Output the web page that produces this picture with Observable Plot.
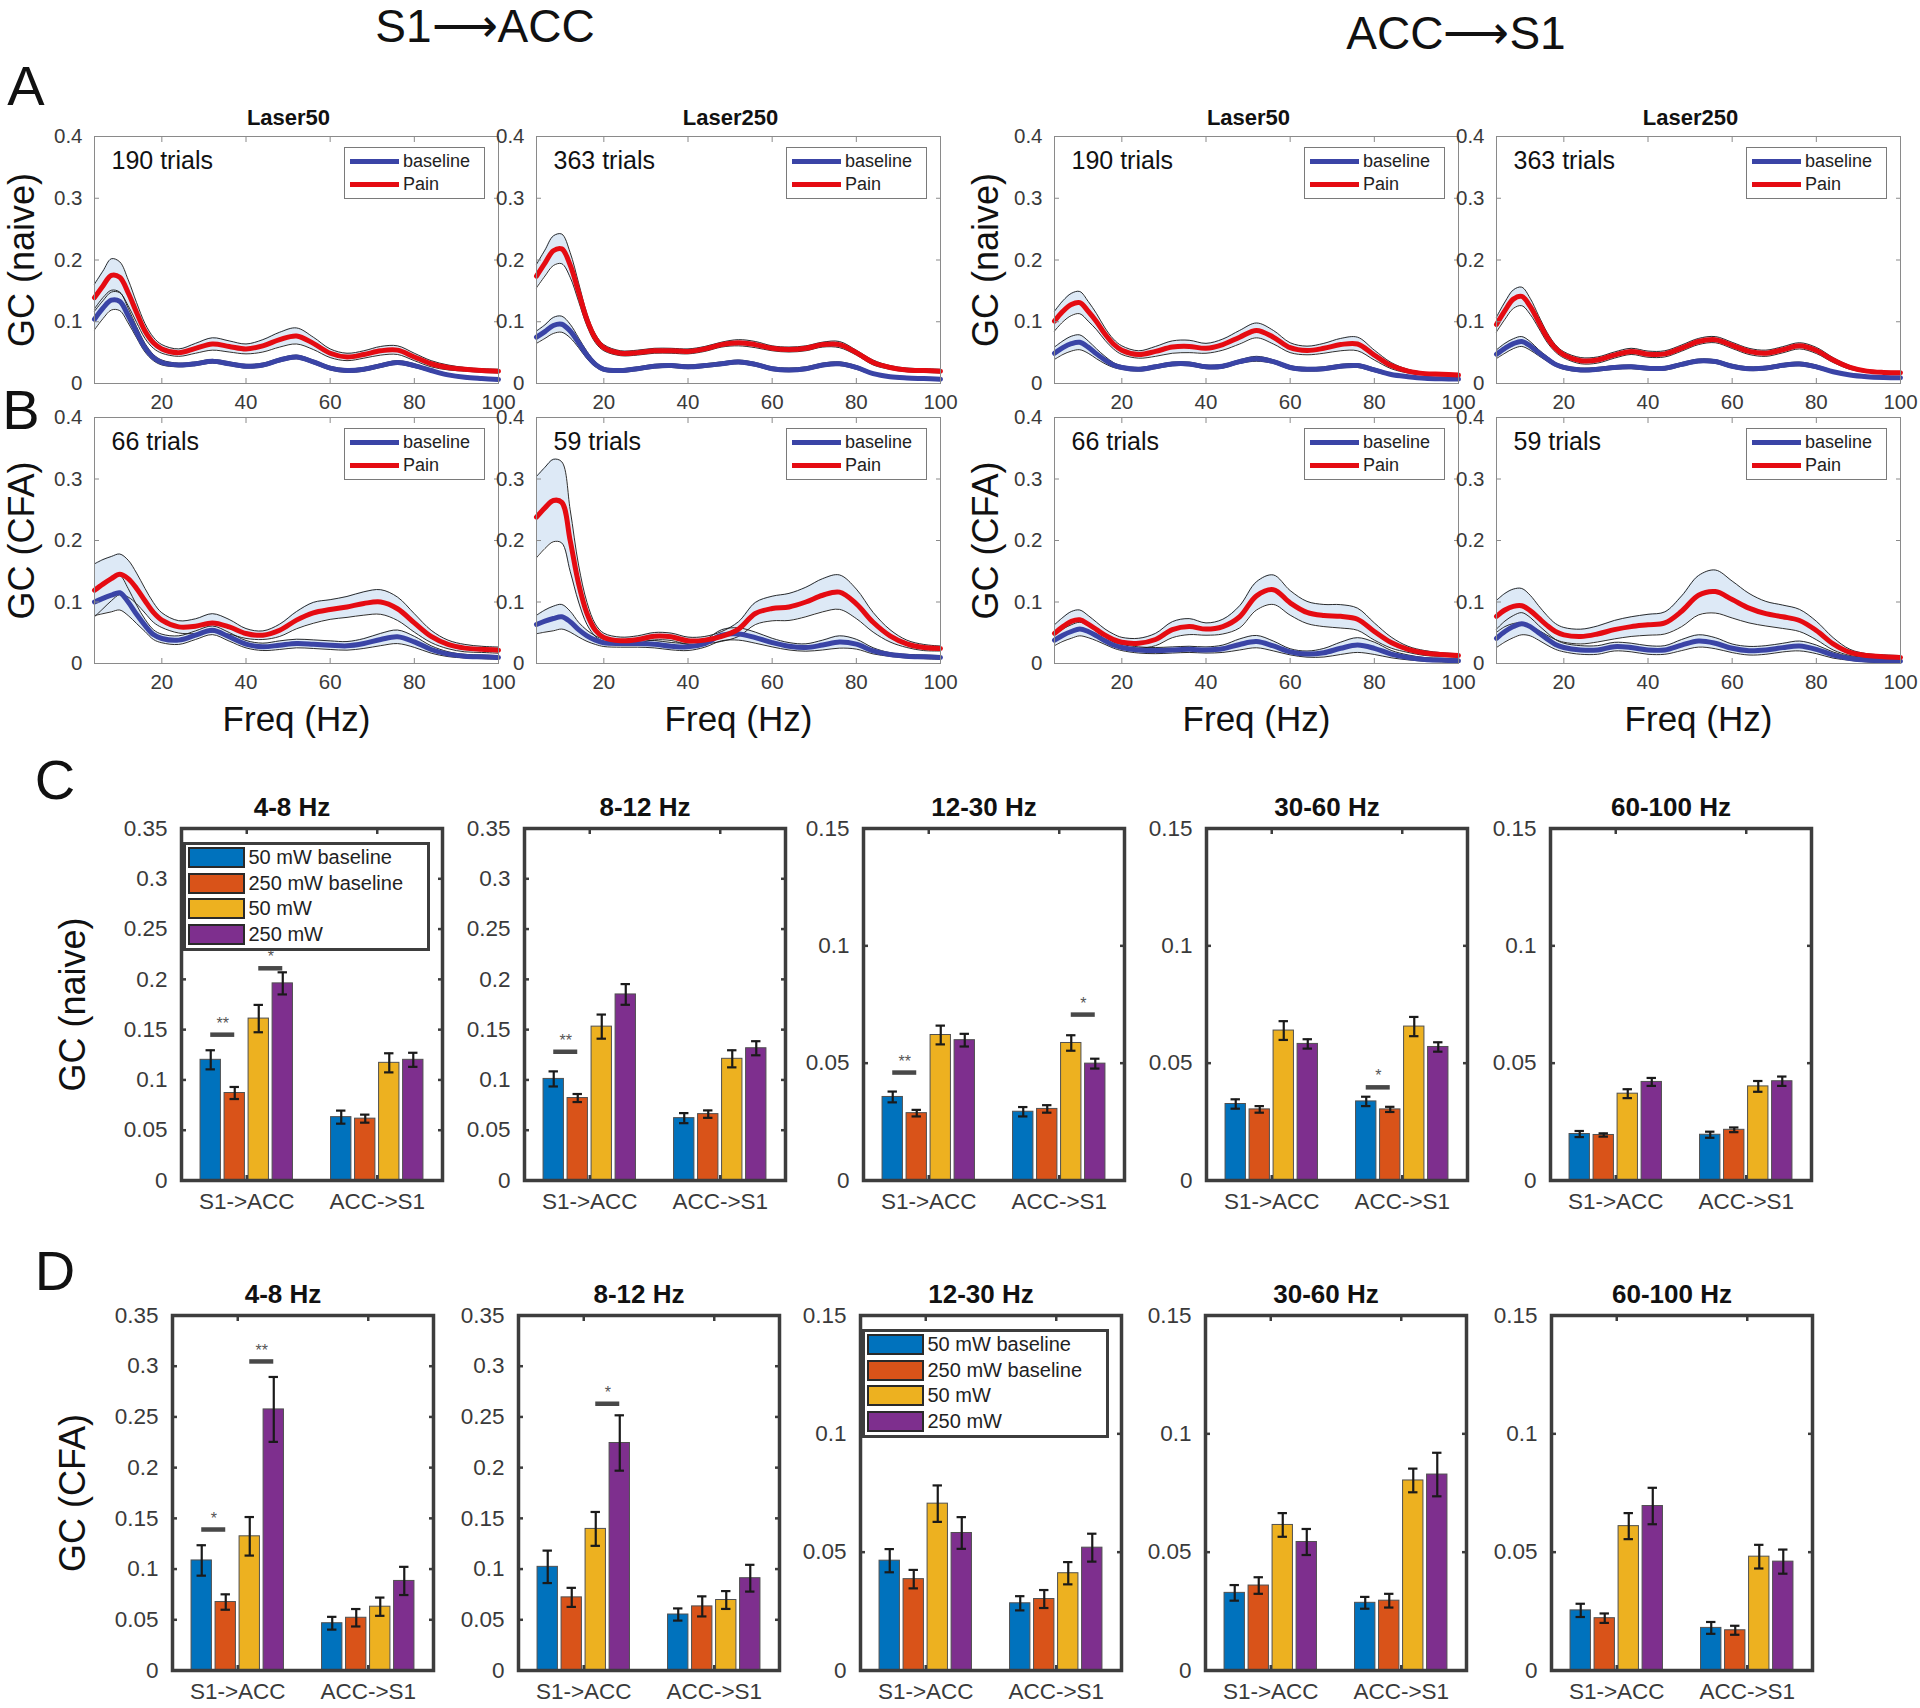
<!DOCTYPE html>
<html><head><meta charset="utf-8">
<script src="https://cdn.jsdelivr.net/npm/d3@7"></script>
<script src="https://cdn.jsdelivr.net/npm/@observablehq/plot@0.6"></script>
<style>
html,body{margin:0;padding:0;background:#fff;}
#page{position:relative;width:1920px;height:1708px;overflow:hidden;background:#fff;font-family:"Liberation Sans",Arial,Helvetica,sans-serif;color:#111;}
#page svg{background:transparent !important;overflow:visible !important;max-width:none !important;}
.txt{position:absolute;white-space:nowrap;line-height:1;}
.lg{position:absolute;box-sizing:border-box;background:#fff;overflow:hidden;}
.lg *{font-family:"Liberation Sans",Arial,sans-serif !important;margin:0 !important;}
.lg [class$="-swatch"]{display:flex;align-items:center;padding:0 !important;color:#222;}
.lg [class$="-swatch"] svg{flex-shrink:0;}
.lg [class$="-label"]{overflow:visible !important;}
.lgLine{border:1px solid #7a7a7a;padding-top:2px;padding-left:5px;}
.lgLine [class$="-swatch"]{height:23px;font-size:18px;}
.lg.lgLine [class$="-swatch"] svg{margin-right:4px !important;}
.lgBar{border:3.5px solid #3d3d3d;padding-left:2.5px;}
.lgBar [class$="-swatch"]{height:25.5px;font-size:20px;}
.lg.lgBar [class$="-swatch"] svg{margin-right:5px !important;}
.lgBar svg rect{stroke:#2a2a2a;stroke-width:2px;}
</style></head>
<body><div id="page"></div>
<script>
// ---------------- data: spectral Granger causality curves ----------------
const freq = [4,6,8,10,12,14,16,18,20,24,28,32,36,40,44,48,52,56,60,64,68,72,76,80,84,88,92,96,100];
const freqTicks = [20,40,60,80,100];
const gcTicks = [0,0.1,0.2,0.3,0.4];
const lineSeries = ["baseline","Pain"];
const lineTitles = ["Laser50","Laser250","Laser50","Laser250"];
const trialCounts = [190,363,190,363,66,59,66,59];
const rowLabels = ["GC (naive)","GC (CFA)"];
const directionTitles = ["S1\u27F6ACC","ACC\u27F6S1"];

// A: naive, S1->ACC Laser50
const a1BaseMean = [0.104,0.122,0.135,0.133,0.110,0.083,0.058,0.042,0.034,0.030,0.032,0.036,0.032,0.028,0.030,0.038,0.043,0.035,0.025,0.021,0.023,0.029,0.034,0.029,0.021,0.014,0.010,0.008,0.0065];
const a1BaseCi   = [0.017,0.017,0.016,0.015,0.012,0.009,0.007,0.005,0.004,0.003,0.003,0.003,0.003,0.003,0.003,0.003,0.003,0.003,0.003,0.003,0.003,0.003,0.003,0.003,0.002,0.002,0.002,0.002,0.002];
const a1PainMean = [0.139,0.158,0.175,0.172,0.147,0.115,0.085,0.066,0.056,0.050,0.057,0.064,0.060,0.056,0.061,0.071,0.077,0.065,0.049,0.043,0.047,0.053,0.054,0.043,0.032,0.026,0.023,0.021,0.020];
const a1PainCi   = [0.022,0.024,0.027,0.025,0.021,0.016,0.012,0.009,0.007,0.006,0.008,0.010,0.009,0.008,0.010,0.012,0.013,0.010,0.007,0.006,0.006,0.007,0.007,0.006,0.005,0.004,0.003,0.003,0.003];
// A: naive, S1->ACC Laser250
const a2BaseMean = [0.075,0.084,0.094,0.096,0.085,0.066,0.046,0.031,0.023,0.021,0.024,0.028,0.029,0.027,0.029,0.032,0.035,0.031,0.024,0.022,0.024,0.030,0.032,0.026,0.016,0.011,0.009,0.008,0.007];
const a2BaseCi   = [0.010,0.011,0.013,0.013,0.011,0.008,0.006,0.004,0.003,0.003,0.003,0.003,0.003,0.003,0.003,0.003,0.003,0.003,0.003,0.003,0.003,0.003,0.003,0.003,0.002,0.002,0.002,0.002,0.002];
const a2PainMean = [0.174,0.195,0.215,0.218,0.192,0.148,0.103,0.073,0.058,0.049,0.050,0.053,0.053,0.052,0.056,0.063,0.066,0.063,0.057,0.055,0.057,0.063,0.063,0.050,0.034,0.026,0.022,0.021,0.020];
const a2PainCi   = [0.019,0.021,0.024,0.024,0.020,0.015,0.010,0.007,0.005,0.004,0.004,0.004,0.004,0.004,0.004,0.004,0.005,0.005,0.004,0.004,0.004,0.004,0.005,0.004,0.004,0.003,0.003,0.003,0.003];
// A: naive, ACC->S1 Laser50
const a3BaseMean = [0.049,0.058,0.0645,0.0667,0.059,0.048,0.038,0.030,0.026,0.023,0.027,0.0317,0.0317,0.027,0.028,0.0355,0.040,0.0355,0.026,0.023,0.024,0.028,0.029,0.022,0.0145,0.011,0.0085,0.0075,0.0071];
const a3BaseCi   = [0.010,0.011,0.012,0.012,0.010,0.008,0.006,0.004,0.003,0.003,0.003,0.003,0.003,0.003,0.003,0.003,0.004,0.003,0.003,0.003,0.003,0.003,0.003,0.003,0.002,0.002,0.002,0.002,0.002];
const a3PainMean = [0.101,0.117,0.128,0.131,0.117,0.100,0.080,0.064,0.054,0.047,0.052,0.059,0.060,0.057,0.063,0.075,0.086,0.075,0.058,0.0535,0.057,0.063,0.064,0.046,0.029,0.020,0.016,0.015,0.0137];
const a3PainCi   = [0.016,0.017,0.018,0.018,0.016,0.013,0.010,0.008,0.007,0.006,0.008,0.010,0.010,0.008,0.009,0.011,0.012,0.011,0.008,0.007,0.008,0.010,0.011,0.008,0.005,0.003,0.002,0.002,0.002];
// A: naive, ACC->S1 Laser250
const a4BaseMean = [0.0475,0.057,0.0645,0.068,0.061,0.050,0.040,0.031,0.026,0.022,0.023,0.026,0.027,0.0246,0.0246,0.031,0.0366,0.0355,0.028,0.024,0.025,0.0295,0.0317,0.027,0.019,0.0137,0.011,0.0098,0.0093];
const a4BaseCi   = [0.007,0.008,0.008,0.008,0.007,0.005,0.004,0.003,0.003,0.003,0.003,0.003,0.003,0.003,0.003,0.003,0.003,0.003,0.003,0.003,0.003,0.003,0.003,0.003,0.002,0.002,0.002,0.002,0.002];
const a4PainMean = [0.0956,0.118,0.1366,0.141,0.125,0.100,0.075,0.057,0.0464,0.037,0.038,0.046,0.052,0.0475,0.048,0.0574,0.068,0.071,0.0617,0.052,0.049,0.0546,0.061,0.0535,0.038,0.026,0.020,0.018,0.0175];
const a4PainCi   = [0.012,0.014,0.015,0.015,0.013,0.010,0.008,0.006,0.005,0.005,0.005,0.005,0.005,0.005,0.005,0.005,0.005,0.005,0.005,0.005,0.005,0.005,0.005,0.005,0.004,0.003,0.002,0.002,0.002];
// B: CFA, S1->ACC Laser50
const b1BaseMean = [0.100,0.106,0.111,0.115,0.100,0.080,0.062,0.047,0.0407,0.038,0.046,0.054,0.0434,0.0314,0.0271,0.0298,0.0325,0.0314,0.0298,0.0287,0.0325,0.039,0.0434,0.0352,0.0228,0.0152,0.0119,0.0108,0.0098];
const b1BaseCi   = [0.022,0.025,0.027,0.028,0.022,0.015,0.010,0.008,0.007,0.007,0.007,0.007,0.007,0.006,0.006,0.007,0.007,0.007,0.007,0.007,0.008,0.010,0.011,0.009,0.006,0.004,0.003,0.003,0.003];
const b1PainMean = [0.119,0.129,0.138,0.145,0.138,0.122,0.102,0.083,0.0705,0.0596,0.0607,0.066,0.0596,0.0488,0.046,0.054,0.0705,0.0824,0.0878,0.092,0.0976,0.100,0.089,0.066,0.044,0.031,0.025,0.023,0.0217];
const b1PainCi   = [0.043,0.040,0.036,0.033,0.030,0.025,0.020,0.016,0.012,0.010,0.012,0.015,0.012,0.008,0.007,0.010,0.014,0.017,0.016,0.017,0.019,0.020,0.019,0.015,0.010,0.007,0.006,0.005,0.005];
// B: CFA, S1->ACC Laser250
const b2BaseMean = [0.0634,0.069,0.0732,0.076,0.068,0.055,0.045,0.038,0.0336,0.0325,0.0325,0.0314,0.0282,0.0271,0.0325,0.046,0.048,0.042,0.034,0.028,0.026,0.030,0.035,0.0314,0.0206,0.0146,0.0119,0.0108,0.0098];
const b2BaseCi   = [0.015,0.018,0.020,0.020,0.017,0.012,0.009,0.007,0.006,0.006,0.006,0.006,0.006,0.006,0.006,0.009,0.010,0.009,0.007,0.006,0.006,0.008,0.010,0.008,0.005,0.003,0.003,0.003,0.003];
const b2PainMean = [0.238,0.253,0.265,0.262,0.200,0.130,0.0813,0.054,0.0423,0.0369,0.039,0.0444,0.0434,0.0369,0.038,0.044,0.056,0.0813,0.0894,0.092,0.100,0.111,0.116,0.097,0.067,0.045,0.032,0.026,0.0244];
const b2PainCi   = [0.066,0.066,0.067,0.066,0.050,0.030,0.018,0.010,0.007,0.006,0.006,0.006,0.006,0.006,0.006,0.008,0.012,0.018,0.020,0.022,0.024,0.027,0.028,0.024,0.016,0.010,0.006,0.005,0.004];
// B: CFA, ACC->S1 Laser50
const b3BaseMean = [0.038,0.046,0.052,0.056,0.052,0.045,0.037,0.030,0.026,0.022,0.021,0.022,0.023,0.022,0.024,0.031,0.0356,0.0285,0.019,0.0153,0.0175,0.0247,0.030,0.0247,0.0153,0.0099,0.0066,0.0055,0.0044];
const b3BaseCi   = [0.009,0.010,0.011,0.011,0.010,0.008,0.006,0.005,0.005,0.005,0.005,0.005,0.005,0.005,0.006,0.009,0.010,0.008,0.005,0.005,0.007,0.010,0.012,0.010,0.006,0.004,0.003,0.003,0.003];
const b3PainMean = [0.049,0.060,0.0685,0.071,0.064,0.055,0.046,0.039,0.0345,0.033,0.039,0.055,0.060,0.056,0.060,0.076,0.110,0.120,0.0986,0.083,0.078,0.0767,0.072,0.052,0.034,0.023,0.017,0.0145,0.013];
const b3PainCi   = [0.014,0.015,0.016,0.016,0.014,0.012,0.010,0.009,0.008,0.008,0.010,0.013,0.013,0.010,0.012,0.018,0.023,0.024,0.020,0.018,0.018,0.019,0.018,0.014,0.009,0.005,0.004,0.003,0.003];
// B: CFA, ACC->S1 Laser250
const b4BaseMean = [0.041,0.052,0.060,0.0647,0.060,0.050,0.040,0.031,0.026,0.022,0.022,0.0274,0.026,0.022,0.022,0.030,0.0367,0.033,0.0247,0.0208,0.022,0.0258,0.0285,0.023,0.0137,0.0082,0.0055,0.0044,0.0038];
const b4BaseCi   = [0.015,0.017,0.018,0.018,0.015,0.012,0.010,0.008,0.007,0.007,0.007,0.007,0.007,0.007,0.007,0.009,0.010,0.009,0.007,0.007,0.007,0.007,0.008,0.007,0.005,0.003,0.003,0.003,0.003];
const b4PainMean = [0.0767,0.087,0.093,0.094,0.086,0.074,0.062,0.052,0.0466,0.0438,0.048,0.055,0.060,0.063,0.066,0.085,0.111,0.117,0.104,0.090,0.081,0.076,0.070,0.0537,0.032,0.018,0.013,0.011,0.0099];
const b4PainCi   = [0.026,0.027,0.028,0.028,0.025,0.020,0.016,0.013,0.012,0.012,0.013,0.015,0.016,0.017,0.018,0.025,0.032,0.035,0.030,0.024,0.020,0.019,0.018,0.015,0.010,0.005,0.003,0.003,0.003];

// ---------------- data: band-averaged GC bars ----------------
const bands = ["4-8 Hz","8-12 Hz","12-30 Hz","30-60 Hz","60-100 Hz"];
const bandYMax = [0.35,0.35,0.15,0.15,0.15];
const directions = ["S1->ACC","ACC->S1"];
const conditions = ["50 mW baseline","250 mW baseline","50 mW","250 mW"];
// order per band: S1->ACC (4 conditions), ACC->S1 (4 conditions)
const naiveMean = [
  [0.120,0.087,0.161,0.196, 0.063,0.0615,0.117,0.120],
  [0.101,0.082,0.153,0.185, 0.062,0.066,0.121,0.1315],
  [0.0356,0.0287,0.062,0.0598, 0.0293,0.0305,0.0586,0.0498],
  [0.0326,0.0303,0.0639,0.0582, 0.0337,0.0303,0.0656,0.0569],
  [0.0198,0.0194,0.037,0.042, 0.0195,0.0216,0.0401,0.0423]];
const naiveErr = [
  [0.0095,0.006,0.0136,0.011, 0.0065,0.004,0.0095,0.007],
  [0.0075,0.004,0.012,0.0103, 0.005,0.0037,0.0085,0.007],
  [0.0023,0.0014,0.004,0.0027, 0.002,0.0016,0.0033,0.0021],
  [0.002,0.0014,0.004,0.002, 0.002,0.0011,0.0041,0.002],
  [0.0013,0.0007,0.0019,0.0017, 0.0013,0.001,0.0023,0.002]];
const cfaMean = [
  [0.1085,0.0675,0.1323,0.2574, 0.0466,0.052,0.0629,0.0883],
  [0.1022,0.0721,0.1396,0.2243, 0.0552,0.0632,0.0695,0.091],
  [0.0464,0.0386,0.0705,0.0581, 0.0284,0.0302,0.0411,0.0519],
  [0.0328,0.0359,0.0615,0.0543, 0.0286,0.0295,0.0803,0.0828],
  [0.0254,0.0221,0.061,0.0695, 0.018,0.017,0.0481,0.046]];
const cfaErr = [
  [0.015,0.0076,0.019,0.032, 0.0063,0.0086,0.009,0.0139],
  [0.016,0.0094,0.0167,0.0273, 0.006,0.0099,0.0088,0.0132],
  [0.0049,0.0039,0.0077,0.0067, 0.003,0.0038,0.0047,0.0059],
  [0.0033,0.0035,0.005,0.0055, 0.0025,0.0029,0.005,0.0092],
  [0.0028,0.002,0.0055,0.0077, 0.0025,0.0019,0.005,0.0051]];
const naiveSig = [
  {band:"4-8 Hz", dir:"S1->ACC", from:0, to:1, y:0.145, label:"**"},
  {band:"4-8 Hz", dir:"S1->ACC", from:2, to:3, y:0.211, label:"*"},
  {band:"8-12 Hz", dir:"S1->ACC", from:0, to:1, y:0.128, label:"**"},
  {band:"12-30 Hz", dir:"S1->ACC", from:0, to:1, y:0.046, label:"**"},
  {band:"12-30 Hz", dir:"ACC->S1", from:2, to:3, y:0.0707, label:"*"},
  {band:"30-60 Hz", dir:"ACC->S1", from:0, to:1, y:0.0397, label:"*"}];
const cfaSig = [
  {band:"4-8 Hz", dir:"S1->ACC", from:0, to:1, y:0.139, label:"*"},
  {band:"4-8 Hz", dir:"S1->ACC", from:2, to:3, y:0.3047, label:"**"},
  {band:"8-12 Hz", dir:"S1->ACC", from:2, to:3, y:0.263, label:"*"}];

// ---------------- style ----------------
const FONT = '"Liberation Sans", Arial, Helvetica, sans-serif';
const BLUE = "#3a44a6", RED = "#e50b12", BANDFILL = "#dde9f6";
const BAR_COLORS = ["#0072BD","#D95319","#EDB120","#7E2F8E"];
const page = document.getElementById("page");
const fmt = d => String(+(+d).toFixed(3));

function place(node, left, top) {
  node.style.position = "absolute";
  node.style.left = left + "px";
  node.style.top = top + "px";
  page.appendChild(node);
}
function htmlText(text, cx, cy, size, extra = "") {
  const d = document.createElement("div");
  d.className = "txt";
  d.textContent = text;
  d.style.cssText = `left:${cx}px;top:${cy}px;font-size:${size}px;transform:translate(-50%,-50%);${extra}`;
  page.appendChild(d);
}

// ---------------- line plots (A, B) ----------------
const LX = [94, 536, 1054, 1496], LW = 404;
const LY = [136, 417], LH = [247, 246];
const lineData = [
  [a1BaseMean,a1BaseCi,a1PainMean,a1PainCi],[a2BaseMean,a2BaseCi,a2PainMean,a2PainCi],
  [a3BaseMean,a3BaseCi,a3PainMean,a3PainCi],[a4BaseMean,a4BaseCi,a4PainMean,a4PainCi],
  [b1BaseMean,b1BaseCi,b1PainMean,b1PainCi],[b2BaseMean,b2BaseCi,b2PainMean,b2PainCi],
  [b3BaseMean,b3BaseCi,b3PainMean,b3PainCi],[b4BaseMean,b4BaseCi,b4PainMean,b4PainCi]];
const curve = "catmull-rom";
const seriesRows = (m, ci) => freq.map((f, i) => ({f, m: m[i], lo: m[i] - ci[i], hi: m[i] + ci[i]}));

function linePlot(row, col) {
  const k = row * 4 + col;
  const [bm, bc, pm, pc] = lineData[k];
  const B = seriesRows(bm, bc), P = seriesRows(pm, pc);
  const ML = 60, MR = 20, MT = 50, MB = 110;
  const W = LW, H = LH[row];
  const axisCol = "#8a8a8a";
  const marks = [
    Plot.areaY(B, {x: "f", y1: "lo", y2: "hi", fill: BANDFILL, curve}),
    Plot.areaY(P, {x: "f", y1: "lo", y2: "hi", fill: BANDFILL, curve}),
    ...[B, P].flatMap(S => ["lo", "hi"].map(key => Plot.lineY(S, {x: "f", y: key, stroke: "#151515", strokeWidth: 0.9, curve}))),
    Plot.lineY(B, {x: "f", y: "m", stroke: BLUE, strokeWidth: 5, curve}),
    Plot.lineY(P, {x: "f", y: "m", stroke: RED, strokeWidth: 5, curve}),
    Plot.frame({stroke: axisCol, strokeWidth: 1}),
    Plot.axisY({anchor: "left", ticks: gcTicks, tickSize: -5, tickFormat: () => "", stroke: axisCol, label: null}),
    Plot.axisY({anchor: "right", ticks: gcTicks, tickSize: -5, tickFormat: () => "", stroke: axisCol, label: null}),
    Plot.axisX({anchor: "bottom", ticks: freqTicks, tickSize: -5, tickFormat: () => "", stroke: axisCol, label: null}),
    Plot.axisX({anchor: "top", ticks: freqTicks, tickSize: -5, tickFormat: () => "", stroke: axisCol, label: null}),
    Plot.axisY({anchor: "left", ticks: gcTicks, tickSize: 0, tickPadding: 12, tickFormat: fmt, fontSize: 20.5, fill: "#3a3a3a", label: null}),
    Plot.axisX({anchor: "bottom", ticks: freqTicks, tickSize: 0, tickPadding: 11, tickFormat: fmt, fontSize: 20.5, fill: "#3a3a3a", label: null}),
    Plot.text([`${trialCounts[k]} trials`], {text: d => d, frameAnchor: "top-left", lineAnchor: "middle", dx: 17, dy: 24.5, textAnchor: "start", fontSize: 25, fill: "#111"})
  ];
  if (row === 0) marks.push(Plot.text([lineTitles[col]], {text: d => d, frameAnchor: "top", lineAnchor: "middle", dx: -8, dy: -18.5, fontSize: 22, fontWeight: "bold", fill: "#111"}));
  if (col === 0 || col === 2) marks.push(Plot.axisY({anchor: "left", ticks: [], tickSize: 0, label: rowLabels[row], labelArrow: "none", labelAnchor: "center", labelOffset: col === 0 ? 86.5 : 82.5, fontSize: 36, fill: "#111"}));
  if (row === 1) marks.push(Plot.axisX({anchor: "bottom", ticks: [], tickSize: 0, label: "Freq (Hz)", labelArrow: "none", labelAnchor: "center", labelOffset: 67, fontSize: 35, fill: "#111"}));
  const svg = Plot.plot({
    width: ML + W + MR, height: MT + H + MB,
    marginLeft: ML, marginRight: MR, marginTop: MT, marginBottom: MB,
    x: {domain: [4, 100], label: null},
    y: {domain: [0, 0.4], label: null},
    style: {fontFamily: FONT, background: "transparent", overflow: "visible"},
    marks
  });
  place(svg, LX[col] - ML, LY[row] - MT);
  // legend box
  const wrap = document.createElement("div");
  wrap.className = "lg lgLine";
  wrap.style.cssText = `left:${LX[col] + 250}px;top:${LY[row] + 11}px;width:141px;height:52px;`;
  wrap.appendChild(Plot.legend({color: {type: "ordinal", domain: lineSeries, range: [BLUE, RED], legend: "swatches"}, legend: "swatches", columns: 1, swatchWidth: 49, swatchHeight: 5}));
  page.appendChild(wrap);
}
for (let r = 0; r < 2; r++) for (let c = 0; c < 4; c++) linePlot(r, c);

// ---------------- bar plots (C, D) ----------------
const BX = [[181, 524, 863, 1206, 1550], [172, 518, 860, 1205, 1551]], BWID = 261;
const BY = [828, 1315], BH = [352, 355];
const SP = 0.184, BARW = 0.156, CAP = 0.036;
const slot = (g, s) => g + 1 + (s - 1.5) * SP;

function barPlot(row, bi) {
  const means = (row === 0 ? naiveMean : cfaMean)[bi];
  const errs = (row === 0 ? naiveErr : cfaErr)[bi];
  const sigs = (row === 0 ? naiveSig : cfaSig).filter(d => d.band === bands[bi]).map(d => ({...d, g: directions.indexOf(d.dir)}));
  const rows = directions.flatMap((dir, g) => conditions.map((cond, s) => ({dir, cond, g, s, m: means[g * 4 + s], e: errs[g * 4 + s]})));
  const ymax = bandYMax[bi];
  const yT = d3.range(0, Math.round(ymax / 0.05) + 1).map(i => +(i * 0.05).toFixed(2));
  const ML = 140, MR = 20, MT = 50, MB = 60;
  const W = BWID, H = BH[row];
  const boxCol = "#3d3d3d";
  const marks = [
    Plot.rectY(rows, {x1: d => slot(d.g, d.s) - BARW / 2, x2: d => slot(d.g, d.s) + BARW / 2, y1: 0, y2: "m", fill: "cond", stroke: "#505050", strokeWidth: 1}),
    Plot.ruleX(rows, {x: d => slot(d.g, d.s), y1: d => d.m - d.e, y2: d => d.m + d.e, stroke: "#1a1a1a", strokeWidth: 2.2}),
    Plot.ruleY(rows, {y: d => d.m - d.e, x1: d => slot(d.g, d.s) - CAP, x2: d => slot(d.g, d.s) + CAP, stroke: "#1a1a1a", strokeWidth: 2.2}),
    Plot.ruleY(rows, {y: d => d.m + d.e, x1: d => slot(d.g, d.s) - CAP, x2: d => slot(d.g, d.s) + CAP, stroke: "#1a1a1a", strokeWidth: 2.2}),
    Plot.ruleY(sigs, {y: "y", x1: d => slot(d.g, d.from), x2: d => slot(d.g, d.to), stroke: "#484848", strokeWidth: 4.5}),
    Plot.text(sigs, {x: d => (slot(d.g, d.from) + slot(d.g, d.to)) / 2, y: "y", text: "label", dy: -11, fontSize: 16, fill: "#555"}),
    Plot.frame({stroke: boxCol, strokeWidth: 3.5}),
    Plot.axisY({anchor: "left", ticks: yT, tickSize: -5, tickFormat: () => "", stroke: boxCol, strokeWidth: 2.5, label: null}),
    Plot.axisY({anchor: "right", ticks: yT, tickSize: -5, tickFormat: () => "", stroke: boxCol, strokeWidth: 2.5, label: null}),
    Plot.axisX({anchor: "bottom", ticks: [1, 2], tickSize: -5, tickFormat: () => "", stroke: boxCol, strokeWidth: 2.5, label: null}),
    Plot.axisX({anchor: "top", ticks: [1, 2], tickSize: -5, tickFormat: () => "", stroke: boxCol, strokeWidth: 2.5, label: null}),
    Plot.axisY({anchor: "left", ticks: yT, tickSize: 0, tickPadding: 14, tickFormat: fmt, fontSize: 22.5, fill: "#3a3a3a", label: null}),
    Plot.axisX({anchor: "bottom", ticks: [1, 2], tickSize: 0, tickPadding: 13, tickFormat: d => directions[d - 1], fontSize: 22.5, fill: "#3a3a3a", label: null}),
    Plot.text([bands[bi]], {text: d => d, frameAnchor: "top", lineAnchor: "middle", dx: bi === 0 ? -20 : -10, dy: -20.5, fontSize: 26, fontWeight: "bold", fill: "#111"})
  ];
  if (bi === 0) marks.push(Plot.axisY({anchor: "left", ticks: [], tickSize: 0, label: rowLabels[row], labelArrow: "none", labelAnchor: "center", labelOffset: row === 0 ? 122.5 : 113.5, fontSize: 36, fill: "#111"}));
  const svg = Plot.plot({
    width: ML + W + MR, height: MT + H + MB,
    marginLeft: ML, marginRight: MR, marginTop: MT, marginBottom: MB,
    x: {domain: [0.5, 2.5], label: null},
    y: {domain: [0, ymax], label: null},
    color: {domain: conditions, range: BAR_COLORS},
    style: {fontFamily: FONT, background: "transparent", overflow: "visible"},
    marks
  });
  place(svg, BX[row][bi] - ML, BY[row] - MT);
}
for (let r = 0; r < 2; r++) for (let b = 0; b < 5; b++) barPlot(r, b);

function barLegend(left, top) {
  const wrap = document.createElement("div");
  wrap.className = "lg lgBar";
  wrap.style.cssText = `left:${left}px;top:${top}px;width:247px;height:109px;`;
  wrap.appendChild(Plot.legend({color: {type: "ordinal", domain: conditions, range: BAR_COLORS, legend: "swatches"}, legend: "swatches", columns: 1, swatchWidth: 55, swatchHeight: 19}));
  page.appendChild(wrap);
}
barLegend(183, 842);
barLegend(862, 1329);

// ---------------- titles and panel letters ----------------
htmlText(directionTitles[0], 485, 26, 46);
htmlText(directionTitles[1], 1456, 33, 46);
htmlText("A", 26, 86, 56);
htmlText("B", 21, 410, 56);
htmlText("C", 55, 780, 56);
htmlText("D", 55, 1271, 56);
</script>
</body></html>
